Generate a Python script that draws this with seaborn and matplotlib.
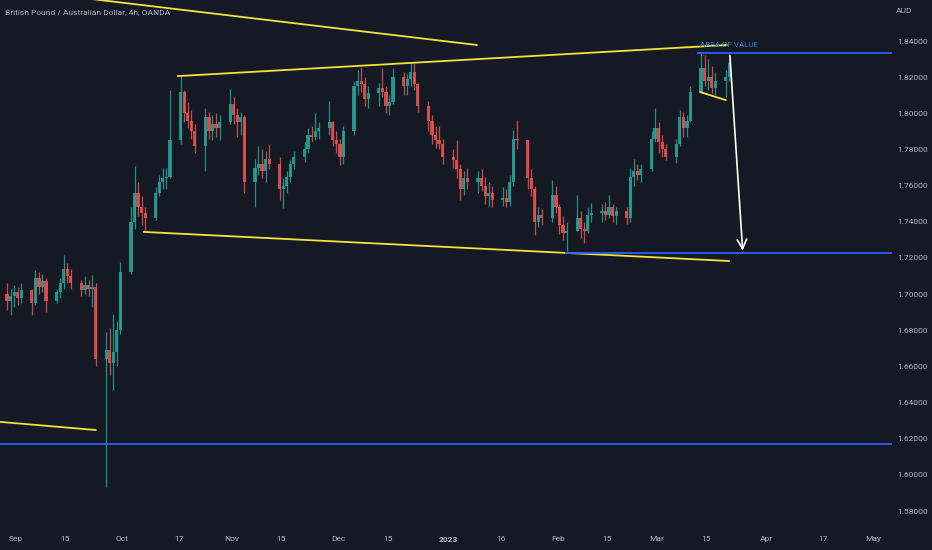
import pandas as pd
import numpy as np
import matplotlib
matplotlib.use("Agg")
import matplotlib.pyplot as plt
import matplotlib.dates as mdates
import seaborn as sns

# daily candles (weekdays, Aug 29 2022 - Mar 21 2023)
first_open = 1.7000
highs = [
    1.7060, 1.7030, 1.7050, 1.7040, 1.7060,
    1.7030, 1.7135, 1.7120, 1.7110, 1.7090,
    1.7030, 1.7090, 1.7216, 1.7170, 1.7140,
    1.7080, 1.7100, 1.7080, 1.7106, 1.7060,
    1.6790, 1.6810, 1.6890, 1.6850, 1.7180,
    1.7480, 1.7710, 1.7620, 1.7540, 1.7480,
    1.7590, 1.7660, 1.7700, 1.7700, 1.8130,
    1.8206, 1.8130, 1.8060, 1.8020, 1.7940,
    1.8030, 1.8010, 1.7990, 1.8000, 1.7990,
    1.8134, 1.8090, 1.8030, 1.8010, 1.7990,
    1.7750, 1.7820, 1.7800, 1.7790, 1.7825,
    1.7760, 1.7640, 1.7680, 1.7740, 1.7790,
    1.7840, 1.7920, 1.7930, 1.8000, 1.7950,
    1.8070, 1.7960, 1.7900, 1.7860, 1.7930,
    1.8180, 1.8240, 1.8256, 1.8200, 1.8150,
    1.8170, 1.8250, 1.8150, 1.8100, 1.8250,
    1.8230, 1.8220, 1.8280, 1.8280, 1.8170,
    1.8070, 1.7990, 1.7930, 1.7930, 1.7860,
    1.7800, 1.7852, 1.7720, 1.7680, 1.7700,
    1.7680, 1.7690, 1.7650, 1.7620, 1.7600,
    1.7590, 1.7580, 1.7660, 1.7910, 1.7963,
    1.7850, 1.7690, 1.7600, 1.7480, 1.7470,
    1.7630, 1.7600, 1.7500, 1.7430, 1.7400,
    1.7550, 1.7460, 1.7400, 1.7480, 1.7505,
    1.7500, 1.7510, 1.7548, 1.7500, 1.7480,
    1.7480, 1.7700, 1.7747, 1.7720, 1.7720,
    1.7900, 1.8030, 1.7950, 1.7880, 1.7830,
    1.7860, 1.8020, 1.8010, 1.7990, 1.8150,
    1.8334, 1.8320, 1.8300, 1.8260, 1.8230,
    1.8240, 1.8295,
]
lows = [
    1.6912, 1.6885, 1.6930, 1.6940, 1.6950,
    1.6885, 1.6940, 1.7000, 1.7010, 1.6900,
    1.6950, 1.6980, 1.7030, 1.7060, 1.7030,
    1.6990, 1.7000, 1.6990, 1.6930, 1.6600,
    1.5933, 1.6550, 1.6470, 1.6600, 1.6780,
    1.7110, 1.7360, 1.7430, 1.7380, 1.7344,
    1.7410, 1.7540, 1.7580, 1.7580, 1.7640,
    1.7830, 1.7950, 1.7920, 1.7860, 1.7780,
    1.7680, 1.7860, 1.7850, 1.7870, 1.7850,
    1.7940, 1.7940, 1.7870, 1.7880, 1.7560,
    1.7480, 1.7660, 1.7640, 1.7620, 1.7690,
    1.7520, 1.7476, 1.7560, 1.7620, 1.7690,
    1.7730, 1.7780, 1.7840, 1.7850, 1.7860,
    1.7880, 1.7820, 1.7780, 1.7714, 1.7720,
    1.7880, 1.8100, 1.8120, 1.8040, 1.8030,
    1.8040, 1.8090, 1.8000, 1.7990, 1.8050,
    1.8100, 1.8100, 1.8150, 1.8130, 1.8010,
    1.7900, 1.7830, 1.7810, 1.7800, 1.7720,
    1.7700, 1.7640, 1.7520, 1.7550, 1.7580,
    1.7560, 1.7570, 1.7500, 1.7490, 1.7480,
    1.7490, 1.7480, 1.7490, 1.7600, 1.7800,
    1.7580, 1.7540, 1.7327, 1.7370, 1.7380,
    1.7400, 1.7450, 1.7330, 1.7300, 1.7240,
    1.7350, 1.7310, 1.7280, 1.7340, 1.7400,
    1.7400, 1.7410, 1.7420, 1.7400, 1.7390,
    1.7390, 1.7400, 1.7600, 1.7630, 1.7620,
    1.7680, 1.7840, 1.7780, 1.7760, 1.7740,
    1.7725, 1.7820, 1.7870, 1.7870, 1.7950,
    1.8110, 1.8150, 1.8130, 1.8110, 1.8100,
    1.8090, 1.8180,
]
closes = [
    1.6960, 1.6990, 1.7010, 1.6980, 1.7020,
    1.6950, 1.7090, 1.7040, 1.7070, 1.6960,
    1.7010, 1.7060, 1.7140, 1.7100, 1.7060,
    1.7020, 1.7050, 1.7030, 1.7040, 1.6640,
    1.6690, 1.6620, 1.6680, 1.6800, 1.7120,
    1.7400, 1.7560, 1.7480, 1.7450, 1.7420,
    1.7560, 1.7620, 1.7640, 1.7650, 1.7850,
    1.8120, 1.8000, 1.7960, 1.7900, 1.7820,
    1.7980, 1.7900, 1.7940, 1.7920, 1.7950,
    1.8050, 1.7990, 1.7950, 1.7980, 1.7620,
    1.7700, 1.7720, 1.7680, 1.7750, 1.7720,
    1.7580, 1.7600, 1.7650, 1.7720, 1.7760,
    1.7800, 1.7880, 1.7870, 1.7900, 1.7920,
    1.7950, 1.7850, 1.7830, 1.7760, 1.7900,
    1.8150, 1.8180, 1.8160, 1.8080, 1.8110,
    1.8140, 1.8120, 1.8040, 1.8060, 1.8200,
    1.8150, 1.8190, 1.8230, 1.8160, 1.8040,
    1.7960, 1.7880, 1.7850, 1.7830, 1.7760,
    1.7740, 1.7690, 1.7580, 1.7640, 1.7620,
    1.7640, 1.7600, 1.7540, 1.7560, 1.7520,
    1.7530, 1.7510, 1.7620, 1.7860, 1.7850,
    1.7640, 1.7580, 1.7400, 1.7440, 1.7420,
    1.7550, 1.7480, 1.7380, 1.7340, 1.7350,
    1.7420, 1.7360, 1.7350, 1.7440, 1.7450,
    1.7460, 1.7440, 1.7480, 1.7430, 1.7460,
    1.7420, 1.7650, 1.7680, 1.7660, 1.7690,
    1.7860, 1.7920, 1.7840, 1.7800, 1.7760,
    1.7830, 1.7980, 1.7920, 1.7960, 1.8120,
    1.8250, 1.8180, 1.8200, 1.8140, 1.8180,
    1.8200, 1.8280,
]

# drawings on the chart
yellow_lines = {
    "top_left": (["2022-09-11", "2023-01-09 05:00"], [1.8659, 1.8378]),
    "channel_top": (["2022-10-16 17:00", "2023-03-20 19:00"], [1.8206, 1.8378]),
    "channel_bottom": (["2022-10-07 02:00", "2023-03-21 10:00"], [1.7344, 1.7183]),
    "bottom_left": (["2022-08-27 12:00", "2022-09-23 14:00"], [1.6293, 1.6248]),
    "flag": (["2023-03-13 05:00", "2023-03-20 12:00"], [1.8118, 1.8073]),
}
blue_levels = [1.8336, 1.7225, 1.6171]
blue_starts = ["2023-03-12 07:00", "2023-02-03", "2022-08-27 12:00"]
arrow_dates = ["2023-03-21 14:00", "2023-03-25 07:00"]
arrow_prices = [1.8336, 1.7225]
label_date, label_price = "2023-03-13 05:00", 1.8376

tick_dates = ["2022-09-01", "2022-09-15", "2022-10-01", "2022-10-17", "2022-11-01",
              "2022-11-15", "2022-12-01", "2022-12-15", "2023-01-01", "2023-01-16",
              "2023-02-01", "2023-02-15", "2023-03-01", "2023-03-15", "2023-04-01",
              "2023-04-17", "2023-05-01"]
tick_labels = ["Sep", "15", "Oct", "17", "Nov", "15", "Dec", "15", "2023", "16",
               "Feb", "15", "Mar", "15", "Apr", "17", "May"]
price_ticks = [1.58, 1.60, 1.62, 1.64, 1.66, 1.68, 1.70, 1.72, 1.74, 1.76, 1.78, 1.80, 1.82, 1.84]

bg = "#151924"
txt = "#b2b5be"
up_col, down_col = "#26a69a", "#ef5350"
yellow = "#f5e23c"
blue = "#2962ff"

sns.set_theme(style="dark", rc={"axes.facecolor": bg, "figure.facecolor": bg})
plt.rcParams["font.family"] = ["Liberation Sans Narrow", "Roboto", "DejaVu Sans"]

df = pd.DataFrame({"date": pd.bdate_range("2022-08-29", "2023-03-21"),
                   "high": highs, "low": lows, "close": closes})
df["open"] = df["close"].shift(1).fillna(first_open)
df["col"] = np.where(df["close"] >= df["open"], up_col, down_col)

fig = plt.figure(figsize=(9.32, 5.5), dpi=100)
ax = fig.add_axes([0, 22 / 550, 892 / 932, 528 / 550])

# candles: wicks then bodies
x = mdates.date2num(df["date"]) + 0.5
ax.vlines(x, df["low"], df["high"], colors=df["col"], lw=0.9, alpha=0.85)
body = (df["close"] - df["open"]).abs().clip(lower=0.0003)
ax.bar(x, body, bottom=df[["open", "close"]].min(axis=1), width=0.9,
       color=df["col"], alpha=0.85, linewidth=0)

# yellow trend lines
rows = []
for name, (ds, ps) in yellow_lines.items():
    for d, p in zip(ds, ps):
        rows.append({"name": name, "date": pd.Timestamp(d), "price": p})
lines_df = pd.DataFrame(rows)
sns.lineplot(data=lines_df, x="date", y="price", units="name", estimator=None,
             color=yellow, lw=1.3, ax=ax)

x_left = mdates.date2num(pd.Timestamp("2022-08-27 12:00"))
x_right = mdates.date2num(pd.Timestamp("2023-05-06 10:00"))
for lvl, st in zip(blue_levels, blue_starts):
    ax.hlines(lvl, mdates.date2num(pd.Timestamp(st)), x_right, colors=blue, lw=1.3)

ax.annotate("", xy=(mdates.date2num(pd.Timestamp(arrow_dates[1])), arrow_prices[1]),
            xytext=(mdates.date2num(pd.Timestamp(arrow_dates[0])), arrow_prices[0]),
            arrowprops=dict(arrowstyle="->", color="white", lw=1.2, mutation_scale=17))
ax.text(mdates.date2num(pd.Timestamp(label_date)), label_price, "AREA OF VALUE",
        color="#2f7fd6", fontsize=5.8, va="center", ha="left")

ax.set_xlim(x_left, x_right)
ax.set_ylim(1.5706, 1.8627)
ax.set_xticks(mdates.date2num(pd.to_datetime(tick_dates)))
ax.set_xticklabels(tick_labels)
for lab in ax.get_xticklabels():
    if lab.get_text() == "2023":
        lab.set_fontweight("bold")
ax.set_yticks(price_ticks)
ax.set_yticklabels([f"{p:.5f}" for p in price_ticks])
ax.yaxis.tick_right()
ax.tick_params(axis="both", length=0, labelsize=6, colors=txt)
ax.tick_params(axis="y", pad=4)
ax.tick_params(axis="x", pad=6)
ax.set_xlabel("")
ax.set_ylabel("")
for s in ax.spines.values():
    s.set_visible(False)
ax.grid(False)

ax.text(0.006, 1 - 12 / 528, "British Pound / Australian Dollar, 4h, OANDA",
        transform=ax.transAxes, color=txt, fontsize=6, va="center", ha="left")
fig.text(896 / 932, 1 - 11 / 550, "AUD", color=txt, fontsize=6, va="center", ha="left")

fig.savefig("out.png", dpi=100, facecolor=bg)
